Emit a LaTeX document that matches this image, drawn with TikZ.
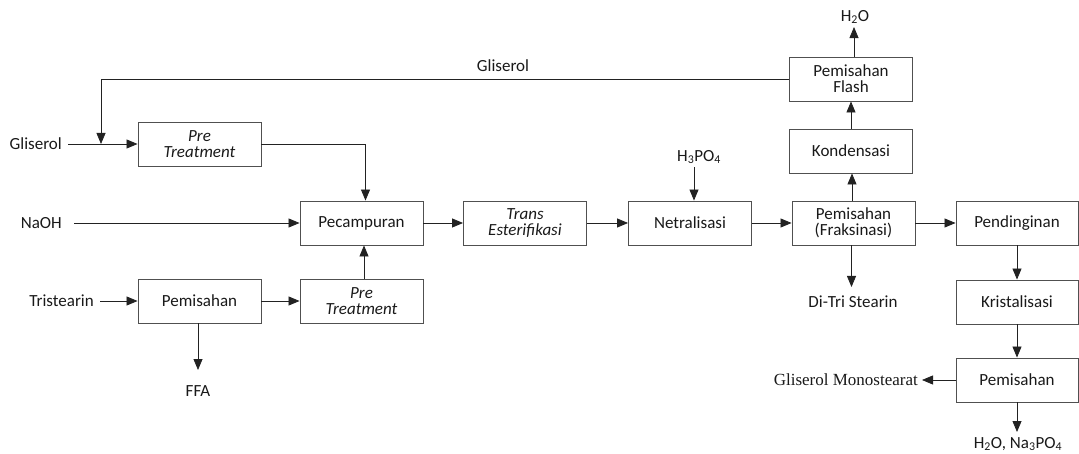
\documentclass[tikz,border=0pt]{standalone}
\usepackage{fontspec}
\setmainfont{Carlito}
\newfontfamily\serifgms{Liberation Serif}
\usetikzlibrary{arrows.meta}
\definecolor{linec}{HTML}{222222}
\definecolor{boxc}{HTML}{505050}
\begin{document}
\begin{tikzpicture}[x=1pt,y=-1pt,
  font=\fontsize{17}{18}\selectfont,
  unit/.style={draw=boxc,line width=0.9pt,minimum width=123pt,minimum height=44pt,
    inner sep=1pt,align=center,text=black!90},
  lbl/.style={inner sep=0pt,text=black!90},
  flow/.style={draw=linec,line width=0.8pt,-{Triangle[length=11pt,width=9pt]}},
  plain/.style={draw=linec,line width=0.8pt}]
\useasboundingbox (0,0) rectangle (1079,454);

% process units
\node[unit] (pt1)   at (199.5,144) {\textit{Pre}\\[-2pt]\textit{Treatment}};
\node[unit] (pec)   at (361.5,223) {Pecampuran};
\node[unit] (pem1)  at (199.5,301) {Pemisahan};
\node[unit] (pt2)   at (361.5,301) {\textit{Pre}\\[-2pt]\textit{Treatment}};
\node[unit] (trans) at (525,223)   {\textit{Trans}\\[-2pt]\textit{Esterifikasi}};
\node[unit] (net)   at (690,223)   {Netralisasi};
\node[unit] (frak)  at (853.5,223) {Pemisahan\\[-2pt](Fraksinasi)};
\node[unit] (kond)  at (851,151)   {Kondensasi};
\node[unit] (flash) at (851,79)    {Pemisahan\\[-2pt]Flash};
\node[unit,minimum width=122pt] (pend)  at (1017,223) {Pendinginan};
\node[unit,minimum width=122pt] (krist) at (1017,302) {Kristalisasi};
\node[unit,minimum width=122pt] (pem2)  at (1017,380) {Pemisahan};

% feed and product labels
\node[lbl,anchor=east] (gl)   at (62,144)  {Gliserol};
\node[lbl,anchor=east] (naoh) at (62,223)  {NaOH};
\node[lbl,anchor=east] (tri)  at (94,301)  {Tristearin};
\node[lbl] (ffa)  at (198,391) {FFA};
\node[lbl] (h3po4) at (699,157) {H\textsubscript{3}PO\textsubscript{4}};
\node[lbl] (ditri) at (853,302) {Di-Tri Stearin};
\node[lbl] (h2o)  at (855,17)  {H\textsubscript{2}O};
\node[lbl] (rec)  at (503,66)  {Gliserol};
\node[lbl,anchor=east,font=\serifgms\fontsize{17}{19}\selectfont] (gms) at (918,380) {Gliserol Monostearat};
\node[lbl] (waste) at (1018,444) {H\textsubscript{2}O, Na\textsubscript{3}PO\textsubscript{4}};

% glycerol recycle joins the glycerol feed
\coordinate (join) at (101,144);
\draw[plain] ([xshift=6pt]gl.east) -- (join);
\draw[flow] (join) -- (pt1.west);
\draw[flow] (flash.west) -- (101,79) -- (join);

% feed streams
\draw[flow] (pt1.east) -| ([xshift=4pt]pec.north);
\draw[flow] ([xshift=12pt]naoh.east) -- (pec.west);
\draw[flow] ([xshift=6pt]tri.east) -- (pem1.west);
\draw[flow] (pem1.east) -- (pt2.west);
\draw[flow] ([xshift=2.5pt]pt2.north) -- ([xshift=2.5pt]pec.south);
\draw[flow] ([xshift=-1.5pt]pem1.south) -- (198,370);

% main line
\draw[flow] (pec.east) -- (trans.west);
\draw[flow] (trans.east) -- (net.west);
\draw[flow] (net.east) -- (frak.west);
\draw[flow] (frak.east) -- (pend.west);
\draw[flow] ([xshift=-5pt,yshift=-3pt]h3po4.south) -- ([xshift=4pt]net.north);
\draw[flow] ([xshift=-2pt]frak.south) -- (851.5,287);

% vapour branch
\draw[flow] ([xshift=-1.5pt]frak.north) -- ([xshift=1pt]kond.south);
\draw[flow] (kond.north) -- (flash.south);
\draw[flow] ([xshift=3pt]flash.north) -- ([xshift=-1pt,yshift=-3pt]h2o.south);

% crystallisation line
\draw[flow] (pend.south) -- (krist.north);
\draw[flow] (krist.south) -- (pem2.north);
\draw[flow] (pem2.west) -- ([xshift=4pt]gms.east);
\draw[flow] (pem2.south) -- (1017,432);
\end{tikzpicture}
\end{document}
